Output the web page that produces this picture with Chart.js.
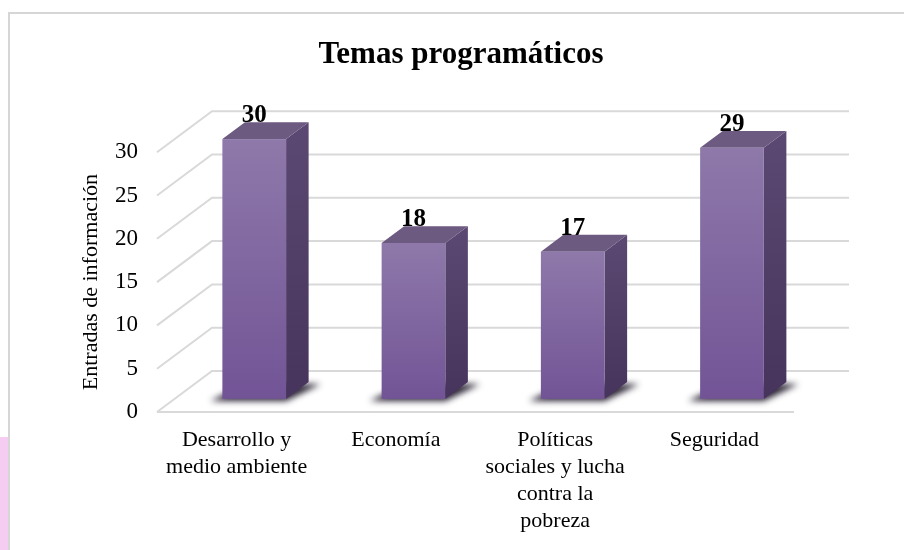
<!DOCTYPE html>
<html>
<head>
<meta charset="utf-8">
<title>Temas programáticos</title>
<script src="https://cdn.jsdelivr.net/npm/chart.js@4"></script>
<style>
  html, body { margin: 0; padding: 0; background: #ffffff; }
  canvas { display: block; }
</style>
</head>
<body>
<canvas id="temas-chart" width="904" height="550"></canvas>
<script>
// Chart data
const categories = [
  ['Desarrollo y', 'medio ambiente'],
  ['Economía'],
  ['Políticas', 'sociales y lucha', 'contra la', 'pobreza'],
  ['Seguridad']
];
const entradas = [30, 18, 17, 29];
const yMin = 0;
const yMax = 30;
const yStep = 5;

// 3D look: full depth of the floor, and where the bars sit inside it
const DEPTH_X = 55;
const DEPTH_Y = -41;
const BAR_FRONT = 0.32;
const BAR_BACK = 0.73;
const FONT = "'Liberation Serif', 'Times New Roman', serif";

// Frame round the chart area (border and the pink strip at the left)
const framePlugin = {
  id: 'frame',
  beforeDraw(chart) {
    const ctx = chart.ctx;
    ctx.save();
    ctx.fillStyle = '#f6cdf2';
    ctx.fillRect(0, 437, 8, 113);
    ctx.strokeStyle = '#d6d6d6';
    ctx.lineWidth = 2;
    ctx.beginPath();
    ctx.moveTo(9, 550);
    ctx.lineTo(9, 13);
    ctx.lineTo(904, 13);
    ctx.stroke();
    ctx.restore();
  }
};

// Grid on the side wall, back wall and floor
const wallsPlugin = {
  id: 'walls',
  beforeDatasetsDraw(chart) {
    const ctx = chart.ctx;
    const y = chart.scales.y;
    const area = chart.chartArea;
    ctx.save();
    ctx.strokeStyle = '#d9d9d9';
    ctx.lineWidth = 2;
    y.ticks.forEach(t => {
      const py = y.getPixelForValue(t.value);
      ctx.beginPath();
      ctx.moveTo(area.left, py);
      ctx.lineTo(area.left + DEPTH_X, py + DEPTH_Y);
      ctx.lineTo(area.right + DEPTH_X, py + DEPTH_Y);
      ctx.stroke();
    });
    // front edge of the floor
    const py0 = y.getPixelForValue(0);
    ctx.beginPath();
    ctx.moveTo(area.left, py0);
    ctx.lineTo(area.right, py0);
    ctx.stroke();
    ctx.restore();
  }
};

// Draw each bar as a box, using the bar elements laid out by Chart.js
const boxPlugin = {
  id: 'boxes',
  afterDatasetsDraw(chart) {
    const ctx = chart.ctx;
    const meta = chart.getDatasetMeta(0);
    const fx = DEPTH_X * BAR_FRONT, fy = DEPTH_Y * BAR_FRONT;
    const bx = DEPTH_X * (BAR_BACK - BAR_FRONT), by = DEPTH_Y * (BAR_BACK - BAR_FRONT);

    meta.data.forEach((bar, i) => {
      const p = bar.getProps(['x', 'y', 'base', 'width'], true);
      const L = p.x - p.width / 2 + fx;
      const R = L + p.width;
      const T = p.y + fy;
      const B = p.base + fy;

      ctx.save();

      // shadow on the floor
      ctx.filter = 'blur(3px)';
      ctx.fillStyle = 'rgba(20, 12, 30, 0.9)';
      ctx.beginPath();
      ctx.moveTo(L - 12, B + 2);
      ctx.lineTo(R, B + 2);
      ctx.lineTo(R + bx + 12, B + by + 2);
      ctx.lineTo(L + bx, B + by + 2);
      ctx.closePath();
      ctx.fill();
      ctx.filter = 'none';

      // side face
      const side = ctx.createLinearGradient(0, T + by, 0, B);
      side.addColorStop(0, '#5b4973');
      side.addColorStop(1, '#46345c');
      ctx.fillStyle = side;
      ctx.beginPath();
      ctx.moveTo(R, T);
      ctx.lineTo(R + bx, T + by);
      ctx.lineTo(R + bx, B + by);
      ctx.lineTo(R, B);
      ctx.closePath();
      ctx.fill();

      // top face
      ctx.fillStyle = '#6c5a80';
      ctx.beginPath();
      ctx.moveTo(L, T);
      ctx.lineTo(L + bx, T + by);
      ctx.lineTo(R + bx, T + by);
      ctx.lineTo(R, T);
      ctx.closePath();
      ctx.fill();

      // front face
      const front = ctx.createLinearGradient(0, T, 0, B);
      front.addColorStop(0, '#8e79aa');
      front.addColorStop(1, '#725496');
      ctx.fillStyle = front;
      ctx.fillRect(L, T, R - L, B - T);

      // value label
      ctx.fillStyle = '#000000';
      ctx.font = 'bold 25px ' + FONT;
      ctx.textAlign = 'center';
      ctx.textBaseline = 'alphabetic';
      ctx.fillText(String(entradas[i]), (L + R) / 2, T + by);

      ctx.restore();
    });
  }
};

const ctx = document.getElementById('temas-chart').getContext('2d');
new Chart(ctx, {
  type: 'bar',
  data: {
    labels: categories,
    datasets: [{
      label: 'Entradas de información',
      data: entradas,
      backgroundColor: 'rgba(0, 0, 0, 0)',
      borderWidth: 0,
      categoryPercentage: 1,
      barPercentage: 0.4
    }]
  },
  options: {
    responsive: false,
    animation: false,
    layout: {
      padding: { left: 18, right: 0, top: 0, bottom: 0 }
    },
    scales: {
      x: {
        grid: { display: false, drawTicks: false },
        border: { display: false },
        ticks: {
          color: '#000000',
          padding: 15,
          maxRotation: 0,
          autoSkip: false,
          font: { family: FONT, size: 22, lineHeight: 1.22 }
        },
        afterFit(scale) { scale.height = 138; }
      },
      y: {
        min: yMin,
        max: yMax,
        grid: { display: false, drawTicks: false },
        border: { display: false },
        ticks: {
          stepSize: yStep,
          color: '#000000',
          padding: 19,
          font: { family: FONT, size: 23 }
        },
        title: {
          display: true,
          text: 'Entradas de información',
          color: '#000000',
          padding: { top: 60, bottom: 0 },
          font: { family: FONT, size: 22, lineHeight: 1.2 }
        },
        afterFit(scale) { scale.width = 139; }
      },
      // empty right-hand axis that keeps room for the back wall
      yRight: {
        position: 'right',
        grid: { display: false, drawTicks: false },
        border: { display: false },
        ticks: { display: false },
        afterFit(scale) { scale.width = 110; }
      }
    },
    plugins: {
      legend: { display: false },
      tooltip: { enabled: false },
      title: {
        display: true,
        text: 'Temas programáticos',
        color: '#000000',
        padding: { top: 36, bottom: 79 },
        font: { family: FONT, size: 31, weight: 'bold', lineHeight: 1.2 }
      }
    }
  },
  plugins: [framePlugin, wallsPlugin, boxPlugin]
});
</script>
</body>
</html>
